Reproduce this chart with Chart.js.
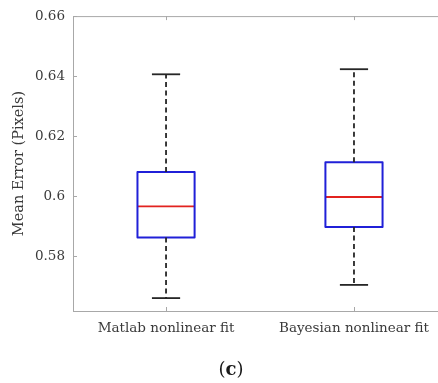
<!DOCTYPE html>
<html>
<head>
<meta charset="utf-8">
<script src="https://cdn.jsdelivr.net/npm/chart.js@4/dist/chart.umd.min.js"></script>
<style>
html,body{margin:0;padding:0;background:#fff;overflow:hidden;}
#wrap{width:438px;height:383px;position:relative;}
</style>
</head>
<body>
<div id="wrap"><canvas id="c" width="438" height="383"></canvas></div>
<script>
// ---- data ----
const categories = ["Matlab nonlinear fit", "Bayesian nonlinear fit"];
const whiskerMin = [0.5660, 0.5704];
const q1Values   = [0.5862, 0.5897];
const medians    = [0.5966, 0.5997];
const q3Values   = [0.6080, 0.6113];
const whiskerMax = [0.6406, 0.6423];
const yTicks     = [0.58, 0.60, 0.62, 0.64, 0.66];
const yTitle = "Mean Error (Pixels)";

const BOX_HALF = 0.152;
const CAP_HALF = 0.075;
const FONT = "'DejaVu Serif', 'Liberation Serif', serif";
const TXT = '#3a3a3a';

const datasets = [];
categories.forEach((c, i) => {
  const x = i + 1;
  // whiskers (dashed)
  datasets.push({data:[{x:x,y:q3Values[i]},{x:x,y:whiskerMax[i]}], borderColor:'#262626', borderWidth:1.8, borderDash:[5,3.5]});
  datasets.push({data:[{x:x,y:q1Values[i]},{x:x,y:whiskerMin[i]}], borderColor:'#262626', borderWidth:1.8, borderDash:[5,3.5]});
  // caps
  datasets.push({data:[{x:x-CAP_HALF,y:whiskerMax[i]},{x:x+CAP_HALF,y:whiskerMax[i]}], borderColor:'#262626', borderWidth:1.8});
  datasets.push({data:[{x:x-CAP_HALF,y:whiskerMin[i]},{x:x+CAP_HALF,y:whiskerMin[i]}], borderColor:'#262626', borderWidth:1.8});
  // box
  datasets.push({data:[
    {x:x-BOX_HALF,y:q1Values[i]},{x:x+BOX_HALF,y:q1Values[i]},
    {x:x+BOX_HALF,y:q3Values[i]},{x:x-BOX_HALF,y:q3Values[i]},
    {x:x-BOX_HALF,y:q1Values[i]}], borderColor:'#2020d8', borderWidth:2, backgroundColor:'#fff', fill:false, borderJoinStyle:'round'});
  // median
  datasets.push({data:[{x:x-BOX_HALF,y:medians[i]},{x:x+BOX_HALF,y:medians[i]}], borderColor:'#e2231f', borderWidth:1.8});
});
datasets.forEach(d => { d.showLine = true; d.pointRadius = 0; d.tension = 0; d.borderCapStyle='butt'; });

const frame = {
  id:'frame',
  afterDraw(chart){
    const {ctx, chartArea:a, scales:{x, y}} = chart;
    ctx.save();
    ctx.strokeStyle = '#a8a8a8';
    ctx.lineWidth = 1;
    ctx.beginPath();
    ctx.moveTo(a.left, a.top + 0.5); ctx.lineTo(a.right, a.top + 0.5);
    // inward ticks
    yTicks.forEach(v => { const py = Math.round(y.getPixelForValue(v)) + 0.5; ctx.moveTo(a.left, py); ctx.lineTo(a.left + 4, py); });
    categories.forEach((c, i) => { const px = Math.round(x.getPixelForValue(i + 1)) + 0.5;
      ctx.moveTo(px, a.bottom); ctx.lineTo(px, a.bottom - 4);
      ctx.moveTo(px, a.top); ctx.lineTo(px, a.top + 4); });
    ctx.stroke();
    // (c) label
    ctx.fillStyle = '#1a1a1a';
    ctx.textBaseline = 'middle';
    const cx = 231, cy = 370, fs = 18;
    ctx.font = fs + "px " + FONT;
    const wP = ctx.measureText('(').width;
    ctx.font = "bold " + fs + "px " + FONT;
    const wC = ctx.measureText('c').width;
    const total = wP * 2 + wC;
    let sx = cx - total / 2;
    ctx.font = fs + "px " + FONT; ctx.fillText('(', sx, cy); sx += wP;
    ctx.font = "bold " + fs + "px " + FONT; ctx.fillText('c', sx, cy); sx += wC;
    ctx.font = fs + "px " + FONT; ctx.fillText(')', sx, cy);
    ctx.restore();
  }
};

new Chart(document.getElementById('c'), {
  type:'scatter',
  data:{datasets},
  options:{
    responsive:false, animation:false,
    layout:{padding:{top:15, right:0, left:0, bottom:0}},
    plugins:{legend:{display:false}, tooltip:{enabled:false}},
    scales:{
      x:{type:'linear', min:0.505, max:2.447,
        afterBuildTicks(s){ s.ticks = categories.map((c,i)=>({value:i+1})); },
        afterFit(s){ s.height = 72; },
        grid:{display:false, drawTicks:false},
        border:{display:true, color:'#a8a8a8', width:1},
        ticks:{padding:9, color:TXT, font:{family:FONT, size:13.5}, maxRotation:0, autoSkip:false,
          callback:(v)=> categories[Math.round(v)-1] || ''}
      },
      y:{type:'linear', min:0.5617, max:0.66,
        afterBuildTicks(s){ s.ticks = yTicks.map(v=>({value:v})); },
        afterFit(s){ s.width = 73; },
        grid:{display:false, drawTicks:false},
        border:{display:true, color:'#a8a8a8', width:1},
        title:{display:true, text:yTitle, color:TXT, font:{family:FONT, size:14.5}, padding:{top:11, bottom:0}},
        ticks:{padding:8, color:TXT, font:{family:FONT, size:13.5},
          callback:(v)=> String(+(+v).toFixed(2))}
      }
    }
  },
  plugins:[frame]
});
</script>
</body>
</html>
